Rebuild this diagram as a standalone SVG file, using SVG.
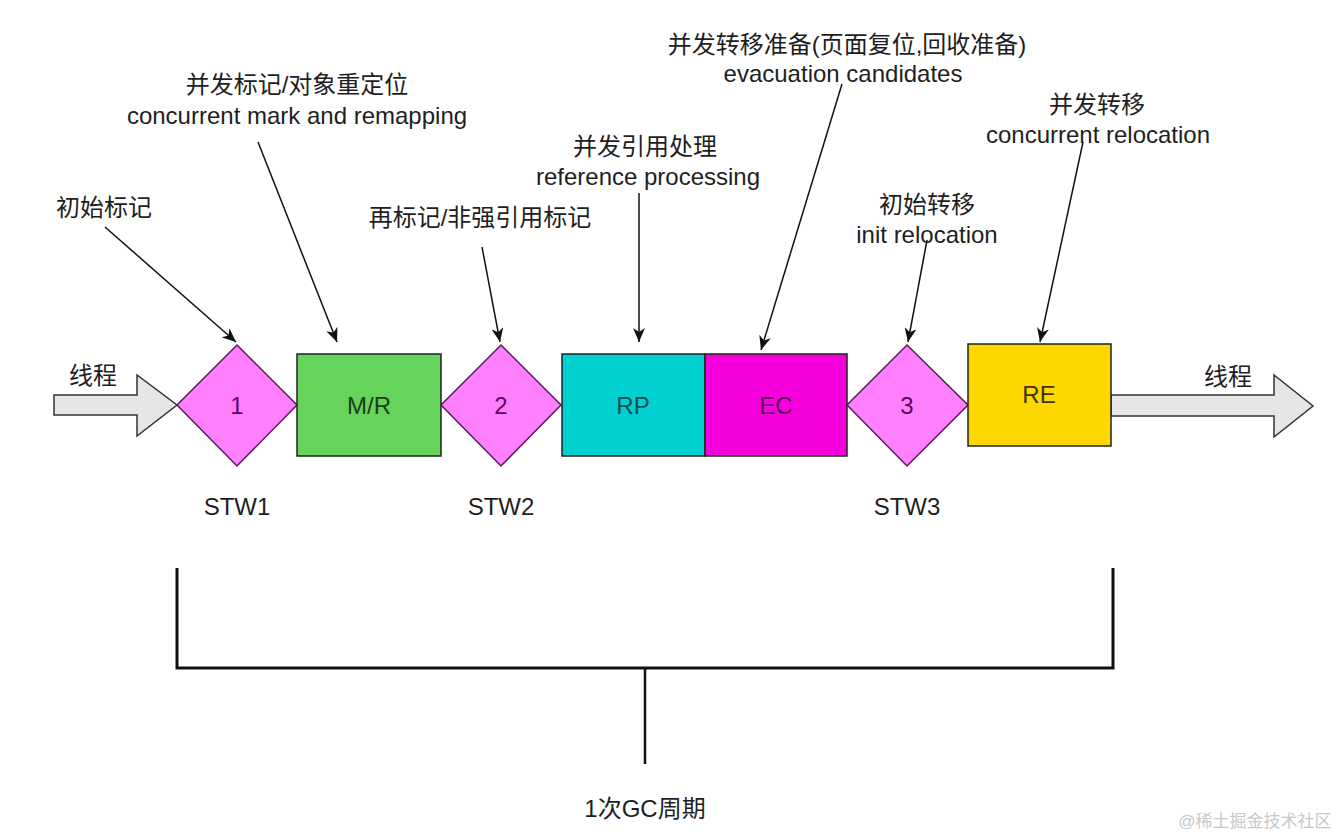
<svg xmlns="http://www.w3.org/2000/svg" width="1337" height="838" viewBox="0 0 1337 838">
<defs>
<style>
text{font-family:"Liberation Sans","Noto Sans CJK SC",sans-serif;font-size:24px;fill:#1e1e1e;text-anchor:middle}
.dia{fill:#ff80ff;stroke:#5a1a5a;stroke-width:1.5}
.box{stroke:#222;stroke-width:1.5}
.conn{stroke:#111;stroke-width:1.5;fill:none;marker-end:url(#ah)}
.brk{stroke:#111;stroke-width:3;fill:none}
.blk{fill:#e6e6e6;stroke:#333;stroke-width:1.5}
</style>
<marker id="ah" viewBox="0 0 14 12" refX="14" refY="6" markerWidth="14" markerHeight="12" markerUnits="userSpaceOnUse" orient="auto"><path d="M0,0 L14,6 L0,12 L4,6 z" fill="#111"/></marker>
</defs>
<rect width="1337" height="838" fill="#ffffff"/>

<g id="thread-in">
<polygon class="blk" points="54,395 137,395 137,375 177,405 137,436 137,415 54,415"/>
<text x="93" y="384">线程</text>
</g>
<g id="thread-out">
<polygon class="blk" points="1111,395 1274,395 1274,375 1313,406 1274,437 1274,416 1111,416"/>
<text x="1228" y="385">线程</text>
</g>

<g id="stw1">
<polygon class="dia" points="237,345 297,405 237,466 177,405"/>
<text x="237" y="414" style="fill:#5e005e">1</text>
<text x="237" y="515">STW1</text>
</g>
<g id="mr">
<rect class="box" x="297" y="354" width="144" height="102" fill="#66d35a"/>
<text x="369" y="414" style="fill:#1d3d18">M/R</text>
</g>
<g id="stw2">
<polygon class="dia" points="501,345 561,405 501,466 441,405"/>
<text x="501" y="414" style="fill:#5e005e">2</text>
<text x="501" y="515">STW2</text>
</g>
<g id="rp">
<rect class="box" x="562" y="354" width="143" height="102" fill="#00d0d0"/>
<text x="633" y="414" style="fill:#0a4f4f">RP</text>
</g>
<g id="ec">
<rect class="box" x="705" y="354" width="142" height="102" fill="#f500dc"/>
<text x="776" y="414" style="fill:#5e0058">EC</text>
</g>
<g id="stw3">
<polygon class="dia" points="907,345 968,405 907,466 847,405"/>
<text x="907" y="414" style="fill:#5e005e">3</text>
<text x="907" y="515">STW3</text>
</g>
<g id="re">
<rect class="box" x="968" y="344" width="143" height="102" fill="#ffd700"/>
<text x="1039" y="403" style="fill:#3e3400">RE</text>
</g>

<g id="labels">
<text x="104" y="216">初始标记</text>
<text x="297" y="93">并发标记/对象重定位</text>
<text x="297" y="124">concurrent mark and remapping</text>
<text x="480" y="226">再标记/非强引用标记</text>
<text x="645" y="155">并发引用处理</text>
<text x="648" y="185">reference processing</text>
<text x="847" y="53">并发转移准备(页面复位,回收准备)</text>
<text x="843" y="82">evacuation candidates</text>
<text x="927" y="213">初始转移</text>
<text x="927" y="243">init relocation</text>
<text x="1097" y="113">并发转移</text>
<text x="1098" y="143">concurrent relocation</text>
<text x="645" y="817">1次GC周期</text>
</g>

<g id="connectors">
<line class="conn" x1="105" y1="227" x2="236" y2="342"/>
<line class="conn" x1="258" y1="142" x2="337" y2="342"/>
<line class="conn" x1="482" y1="247" x2="500" y2="342"/>
<line class="conn" x1="639" y1="193" x2="639" y2="342"/>
<line class="conn" x1="842" y1="84" x2="761" y2="350"/>
<line class="conn" x1="927" y1="240" x2="908" y2="342"/>
<line class="conn" x1="1083" y1="142" x2="1040" y2="342"/>
</g>

<g id="bracket">
<path class="brk" d="M177,568 L177,668 L1113,668 L1113,568"/>
<line class="brk" x1="645" y1="668" x2="645" y2="764" style="stroke-width:2.5"/>
</g>

<text x="1255" y="827" style="font-size:17px;fill:#c8c8c8">@稀土掘金技术社区</text>
</svg>
